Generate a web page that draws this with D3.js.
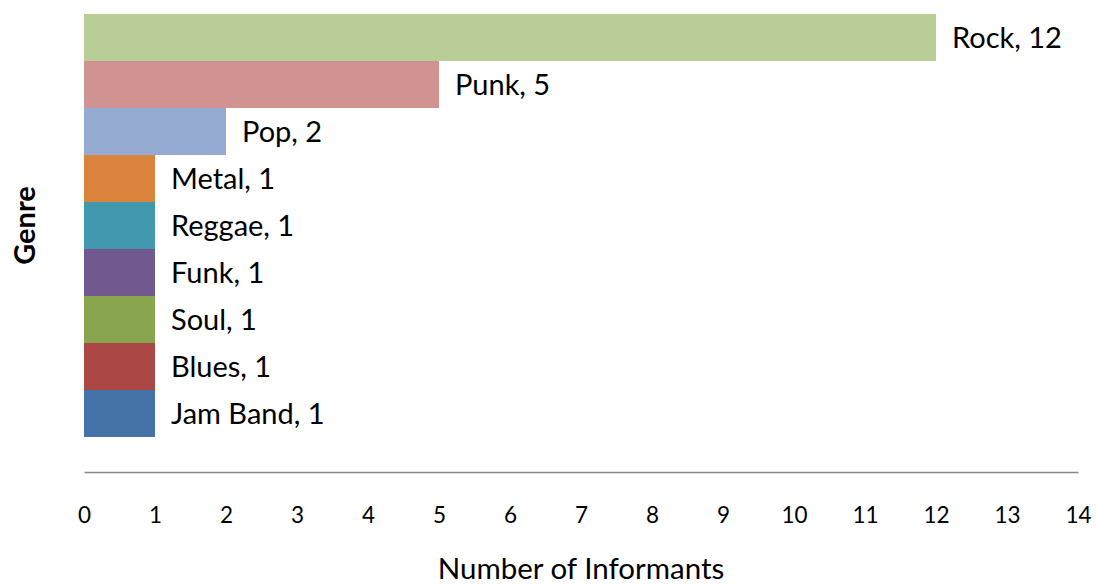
<!DOCTYPE html>
<html>
<head>
<meta charset="utf-8">
<script src="https://cdn.jsdelivr.net/npm/d3@7"></script>
<style>
  html, body { margin: 0; padding: 0; background: #fff; }
  svg { display: block; font-family: Lato, "Open Sans", sans-serif; }
</style>
</head>
<body>
<svg id="chart" width="1096" height="584"></svg>
<script>
// Genres listed top to bottom, with informant counts
const genres = ["Rock", "Punk", "Pop", "Metal", "Reggae", "Funk", "Soul", "Blues", "Jam Band"];
const informants = [12, 5, 2, 1, 1, 1, 1, 1, 1];
const barColors = ["#B9CD96", "#D19392", "#95ABD2", "#DB843D", "#4198AF", "#71588F", "#89A54E", "#AA4644", "#4572A7"];
const xTicks = [0, 1, 2, 3, 4, 5, 6, 7, 8, 9, 10, 11, 12, 13, 14];

const svg = d3.select("#chart");

const x = d3.scaleLinear().domain([0, 14]).range([84, 1078]);
const y = d3.scaleBand().domain(genres).range([14, 437]).padding(0);

const rows = genres.map((g, i) => ({ genre: g, value: informants[i], color: barColors[i] }));

// Bars
svg.append("g")
  .selectAll("rect")
  .data(rows)
  .join("rect")
  .attr("x", x(0))
  .attr("y", d => y(d.genre))
  .attr("width", d => x(d.value) - x(0))
  .attr("height", y.bandwidth())
  .attr("fill", d => d.color);

// Data labels: "Genre, value"
svg.append("g")
  .selectAll("text")
  .data(rows)
  .join("text")
  .attr("x", d => x(d.value) + 16)
  .attr("y", d => y(d.genre) + y.bandwidth() / 2)
  .attr("dy", "0.37em")
  .attr("font-size", 29)
  .attr("fill", "#000")
  .text(d => `${d.genre}, ${d.value}`);

// X axis: plain line with numbers, no tick marks
const axisY = 472;
const xAxis = d3.axisBottom(x).tickValues(xTicks).tickSize(0).tickPadding(0).tickFormat(d3.format("d"));
const axisG = svg.append("g").attr("transform", `translate(0,${axisY})`).call(xAxis);
axisG.select(".domain").attr("stroke", "#888888").attr("stroke-width", 1.5);
axisG.selectAll(".tick text")
  .attr("y", 51)
  .attr("dy", 0)
  .attr("font-size", 22.5)
  .attr("font-family", "Lato, 'Open Sans', sans-serif")
  .attr("fill", "#000");

// Axis titles
svg.append("text")
  .attr("x", (x(0) + x(14)) / 2)
  .attr("y", 579)
  .attr("text-anchor", "middle")
  .attr("font-size", 29.5)
  .attr("fill", "#000")
  .text("Number of Informants");

svg.append("text")
  .attr("transform", `translate(35,${(14 + 437) / 2}) rotate(-90)`)
  .attr("text-anchor", "middle")
  .attr("font-size", 29)
  .attr("font-weight", "bold")
  .attr("fill", "#000")
  .text("Genre");
</script>
</body>
</html>
